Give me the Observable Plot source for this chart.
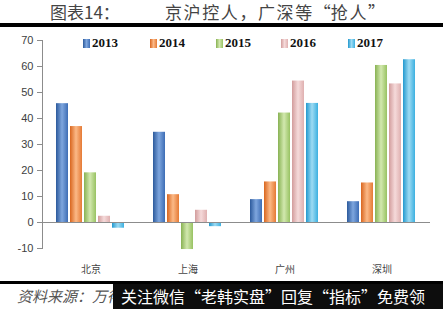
<!DOCTYPE html>
<html><head><meta charset="utf-8">
<script src="https://cdn.jsdelivr.net/npm/d3@7"></script>
<script src="https://cdn.jsdelivr.net/npm/@observablehq/plot@0.6"></script>
<style>
body{margin:0;width:443px;height:309px;position:relative;overflow:hidden;background:#fff;font-family:"Noto Sans CJK SC",sans-serif}
#title{position:absolute;left:0;top:2px;width:443px;height:20px;font-size:17px;color:#444;line-height:20px}
#title .a{position:absolute;left:50px}
#title .b{position:absolute;left:165px;letter-spacing:1.6px;white-space:nowrap}
.ql,.qr{display:inline-block;width:1em}
.ql{text-align:right}
.qr{text-align:left}
#rule1{position:absolute;left:0;top:23px;width:443px;height:4px;background:#000}
#chart{position:absolute;left:0;top:28px}
#legend{position:absolute;top:35px;left:0;width:443px;height:16px}
#legend .it{position:absolute;top:0;font:bold 13px "Liberation Serif",serif;color:#111;line-height:16px}
#legend .sw{display:inline-block;width:7px;height:9px;margin-right:2px;vertical-align:-1px}
#rule2{position:absolute;left:0;top:281px;width:443px;height:3px;background:#000}
#src{position:absolute;left:17px;top:285px;font-size:15px;font-style:italic;color:#555;line-height:22px}
#ad{position:absolute;left:113px;top:284px;width:330px;height:25px;background:#0d0d0d;color:#fff;font-size:16px;line-height:25px;white-space:nowrap;overflow:hidden;padding-left:8px;box-sizing:border-box}
</style></head><body>
<div id="title"><span class="a">图表14：</span><span class="b">京沪控人，广深等<span class="ql">“</span>抢人<span class="qr">”</span></span></div>
<div id="rule1"></div>
<div id="chart"></div>
<div id="legend"></div>
<div id="rule2"></div>
<div id="src">资料来源：万得</div>
<div id="ad">关注微信<span class="ql">“</span>老韩实盘<span class="qr">”</span>回复<span class="ql">“</span>指标<span class="qr">”</span>免费领</div>
<script>
const cities = ["北京", "上海", "广州", "深圳"];
const years = ["2013", "2014", "2015", "2016", "2017"];
const v2013 = [45.7, 34.7, 8.8, 8.0];
const v2014 = [36.9, 10.7, 15.6, 15.2];
const v2015 = [19.1, -10.4, 42.1, 60.4];
const v2016 = [2.4, 4.7, 54.4, 53.3];
const v2017 = [-2.2, -1.6, 45.8, 62.6];
const yTicks = [-10, 0, 10, 20, 30, 40, 50, 60, 70];

const series = {"2013": v2013, "2014": v2014, "2015": v2015, "2016": v2016, "2017": v2017};
const table = [];
cities.forEach((c, i) => years.forEach(y => table.push({city: c, year: y, value: series[y][i]})));

const shades = {
  "2013": ["#2c5a9c", "#7ea6de", "#3d6db5"],
  "2014": ["#d9661f", "#fbb987", "#e57a35"],
  "2015": ["#88b253", "#d2e8ae", "#98c262"],
  "2016": ["#d29c9c", "#f5dada", "#dfb0b0"],
  "2017": ["#2399cf", "#9ddbf3", "#3cb0e0"]
};

const svg = Plot.plot({
  width: 443, height: 253,
  marginLeft: 40, marginRight: 12, marginTop: 12, marginBottom: 33,
  style: {background: "transparent", fontFamily: "'Noto Sans CJK SC', sans-serif"},
  fx: {domain: cities, padding: 0, label: null},
  x: {domain: years, paddingInner: 0.14, paddingOuter: 0.9, axis: null},
  y: {domain: [-10, 70], label: null},
  color: {domain: years, range: years.map(y => `url(#g${y})`)},
  marks: [
    Plot.barY(table, {fx: "city", x: "year", y: "value", fill: "year"}),
    Plot.ruleY([0], {stroke: "#8c8c8c"}),
    Plot.axisY({ticks: yTicks, tickFormat: d => String(d), tickSize: 5, tickPadding: 4, fontSize: 11, fill: "#404040", stroke: "#8c8c8c", label: null, fontFamily: "'Liberation Sans', Arial, sans-serif"}),
    Plot.frame({anchor: "left", stroke: "#8c8c8c", facetAnchor: "left"}),
    Plot.axisFx({anchor: "bottom", tickSize: 0, tickPadding: 17, fontSize: 10, fill: "#444", label: null})
  ]
});

const defs = d3.select(svg).insert("defs", ":first-child");
years.forEach(y => {
  const g = defs.append("linearGradient").attr("id", "g" + y).attr("x1", 0).attr("x2", 1).attr("y1", 0).attr("y2", 0);
  const s = shades[y];
  g.append("stop").attr("offset", "0").attr("stop-color", s[0]);
  g.append("stop").attr("offset", "0.5").attr("stop-color", s[1]);
  g.append("stop").attr("offset", "1").attr("stop-color", s[2]);
});
document.getElementById("chart").appendChild(svg);

const legendX = [83, 150, 216, 281, 348];
const leg = d3.select("#legend");
years.forEach((y, i) => {
  const s = shades[y];
  const it = leg.append("span").attr("class", "it").style("left", legendX[i] + "px");
  it.append("span").attr("class", "sw").style("background", `linear-gradient(to right, ${s[0]}, ${s[1]}, ${s[2]})`);
  it.append("span").text(y);
});
</script>
</body></html>
